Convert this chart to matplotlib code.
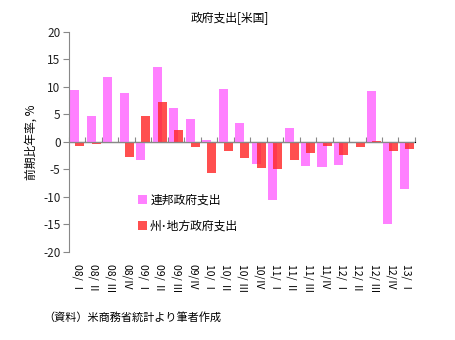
import matplotlib
matplotlib.use("Agg")
import matplotlib.pyplot as plt
import numpy as np

plt.rcParams['font.family'] = ['Noto Sans CJK JP', 'DejaVu Sans']

categories = ["08/ Ⅰ", "08/ Ⅱ", "08/ Ⅲ", "08/Ⅳ", "09/ Ⅰ", "09/ Ⅱ", "09/ Ⅲ", "09/Ⅳ",
              "10/ Ⅰ", "10/ Ⅱ", "10/ Ⅲ", "10/Ⅳ", "11/ Ⅰ", "11/ Ⅱ", "11/ Ⅲ", "11/Ⅳ",
              "12/ Ⅰ", "12/ Ⅱ", "12/ Ⅲ", "12/Ⅳ", "13/ Ⅰ"]
federal = [9.5, 4.8, 11.8, 8.9, -3.2, 13.7, 6.1, 4.1, 0.4, 9.7, 3.5, -4.1,
           -10.5, 2.5, -4.4, -4.5, -4.2, -0.2, 9.3, -14.9, -8.5]
state_local = [-0.7, -0.3, -0.2, -2.8, 4.8, 7.2, 2.1, -1.0, -5.6, -1.6, -3.0, -4.7,
               -4.9, -3.2, -2.1, -0.8, -2.3, -1.0, 0.2, -1.6, -1.3]
series_names = ["連邦政府支出", "州･地方政府支出"]
yticks = [-20, -15, -10, -5, 0, 5, 10, 15, 20]

fig = plt.figure(figsize=(4.56, 3.40), dpi=100)
ax = fig.add_axes([0.151, 0.259, 0.759, 0.647])

x = np.arange(len(categories))
w = 0.55
ax.bar(x - 0.14, federal, width=w, color="#FF80FF", label=series_names[0], zorder=2)
ax.bar(x + 0.17, state_local, width=w, color=(1.0, 40/255, 40/255), alpha=0.82,
       label=series_names[1], zorder=3)

ax.set_xlim(-0.5, len(categories) - 0.5)
ax.set_ylim(-20, 20)
ax.set_yticks(yticks)
ax.set_yticklabels([str(v) for v in yticks], fontsize=8.5, color="#222222")
ax.tick_params(axis='y', direction='out', length=4, color="#888888", pad=2)
ax.set_ylabel("前期比年率, %", fontsize=8.5, labelpad=4)

for s in ['top', 'right', 'bottom']:
    ax.spines[s].set_visible(False)
ax.spines['left'].set_color("#888888")

ax.set_xticks(x)
ax.set_xticklabels(categories, rotation=270, fontsize=7.5, va='top', ha='center')
ax.tick_params(axis='x', length=0, pad=9)

ax.axhline(0, color="#888888", lw=0.9, zorder=4)
sec = ax.secondary_xaxis(0.5)
sec.set_xticks(np.arange(len(categories) + 1) - 0.5)
sec.set_xticklabels([])
sec.tick_params(axis='x', direction='out', length=3.5, color="#888888")
sec.spines['bottom'].set_visible(False)

leg = ax.legend(loc='lower left', bbox_to_anchor=(0.17, 0.04), frameon=False,
                fontsize=8.5, handlelength=0.7, handleheight=0.7, handletextpad=0.3,
                labelspacing=1.1)

fig.text(0.505, 0.945, "政府支出[米国]", ha='center', va='center', fontsize=8.5)
fig.text(0.095, 0.065, "（資料）米商務省統計より筆者作成", ha='left', va='center', fontsize=8)

fig.savefig("out.png", dpi=100)
